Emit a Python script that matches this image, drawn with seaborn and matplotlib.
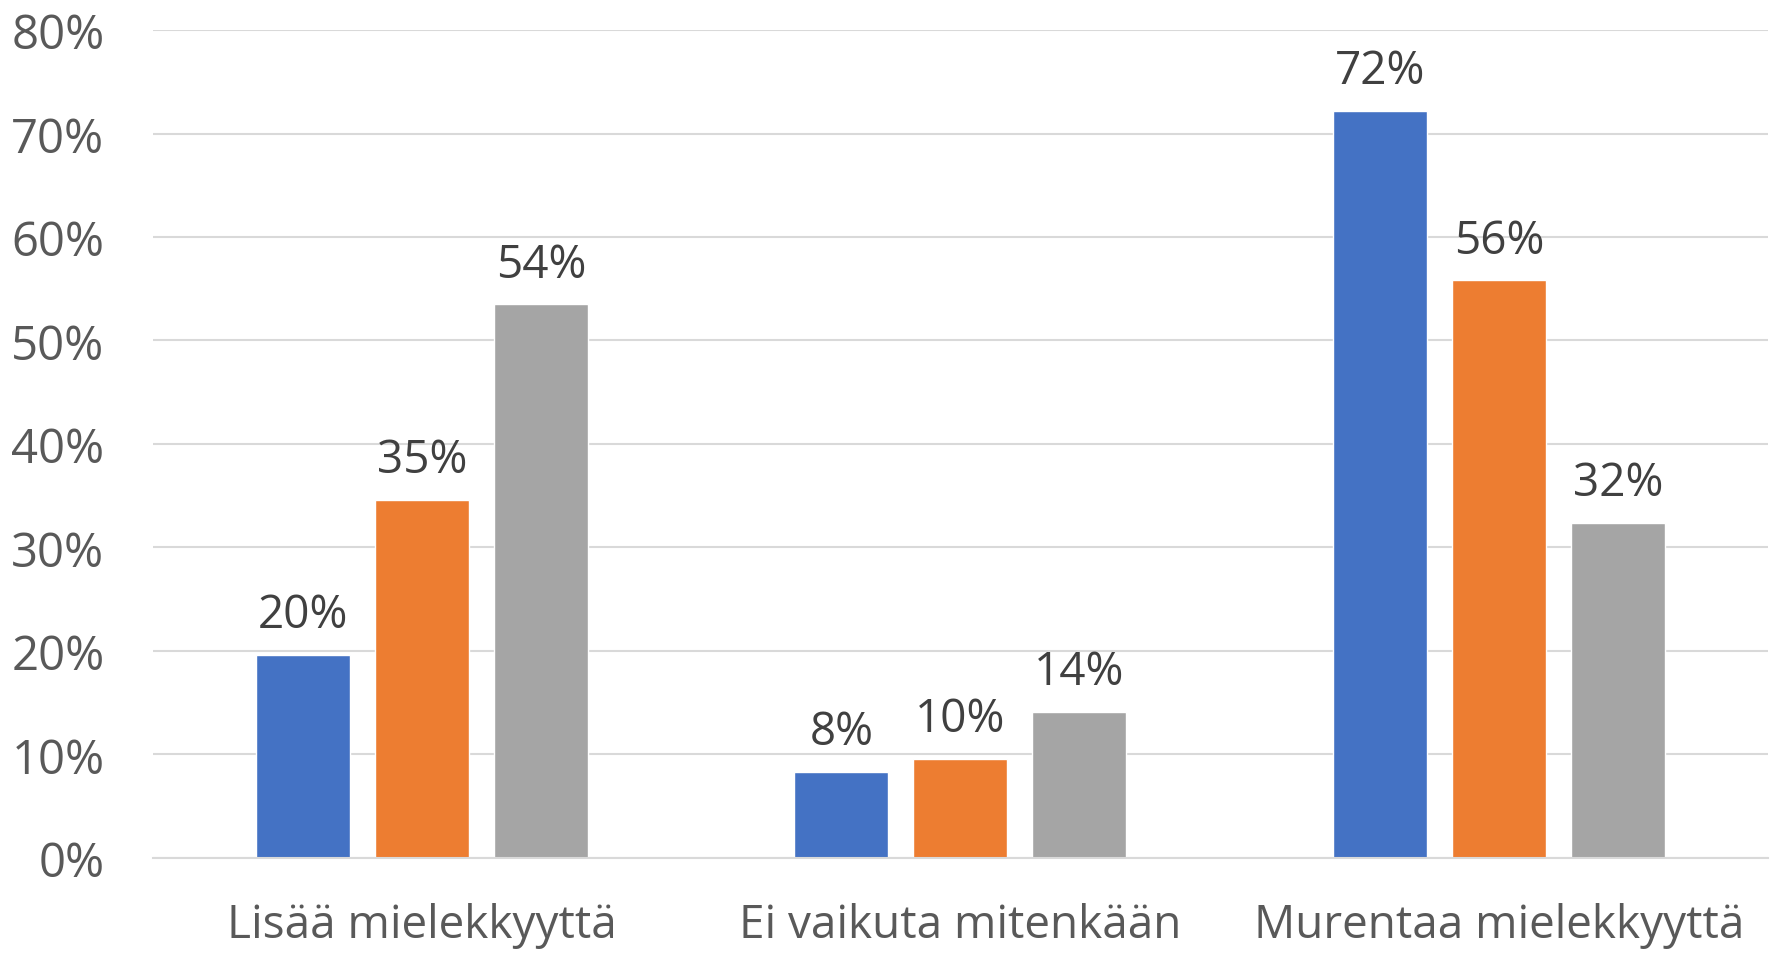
import pandas as pd
import matplotlib.pyplot as plt
import seaborn as sns

categories = ['Lisää mielekkyyttä', 'Ei vaikuta mitenkään', 'Murentaa mielekkyyttä']
series = ['A', 'B', 'C']
values_a = [19.6, 8.3, 72.2]
values_b = [34.6, 9.6, 55.8]
values_c = [53.5, 14.1, 32.4]
colors = ['#4472C4', '#ED7D31', '#A5A5A5']
yticks = [0, 10, 20, 30, 40, 50, 60, 70, 80]

df = pd.DataFrame({
    'category': categories * 3,
    'series': [s for s in series for _ in categories],
    'value': values_a + values_b + values_c,
})

sns.set_style('white')
plt.rcParams['font.family'] = ['Open Sans', 'DejaVu Sans']

fig = plt.figure(figsize=(17.75, 9.54), dpi=100)
ax = fig.add_axes([0.0862, 0.0996, 0.9098, 0.8679])

sns.barplot(data=df, x='category', y='value', hue='series', palette=colors,
            width=0.663, gap=0.21, saturation=1, legend=False, ax=ax)

for container in ax.containers:
    ax.bar_label(container, labels=[f'{round(v.get_height()):d}%' for v in container],
                 padding=12, fontsize=33, color='#404040')

ax.set_ylim(0, 80)
ax.set_xlim(-0.5, 2.5)
ax.set_yticks(yticks)
ax.set_yticklabels([f'{t}%' for t in yticks])
ax.yaxis.grid(True, color='#D9D9D9', linewidth=1.5)
ax.set_axisbelow(True)
for side in ['top', 'right', 'left']:
    ax.spines[side].set_visible(False)
ax.spines['bottom'].set_color('#D9D9D9')
ax.spines['bottom'].set_linewidth(1.5)
ax.tick_params(axis='y', length=0, pad=35, labelsize=34, labelcolor='#595959')
ax.tick_params(axis='x', length=0, pad=32, labelsize=33, labelcolor='#595959')
ax.set_xlabel('')
ax.set_ylabel('')

fig.savefig('out.png')
